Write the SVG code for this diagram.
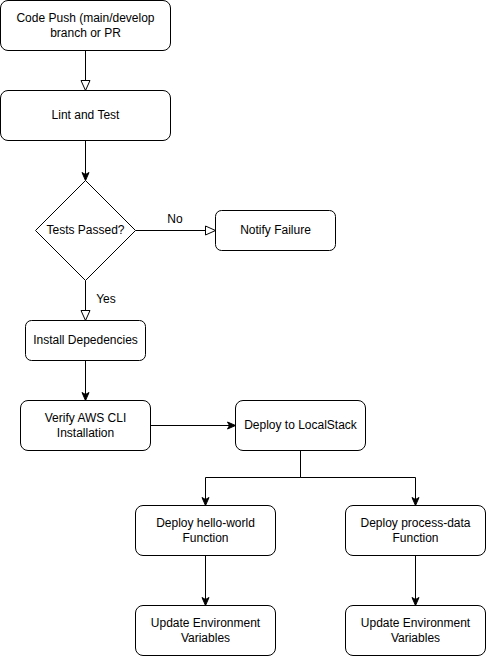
<svg xmlns="http://www.w3.org/2000/svg" width="486" height="656" viewBox="0 0 486 656">
<defs>
<style>
.n{fill:#fff;stroke:#000;stroke-width:1}
.t{font-family:"Liberation Sans",Arial,sans-serif;font-size:12px;fill:#000;text-anchor:middle}
.e{fill:none;stroke:#000;stroke-width:1}
</style>
<marker id="open" markerUnits="userSpaceOnUse" markerWidth="12" markerHeight="11" refX="10" refY="4.5" orient="auto" overflow="visible">
<path d="M0,0 L10,4.5 L0,9 Z" fill="#fff" stroke="#000" stroke-width="1"/>
</marker>
<marker id="cls" markerUnits="userSpaceOnUse" markerWidth="10" markerHeight="9" refX="8" refY="3.5" orient="auto" overflow="visible">
<path d="M0,0 L8,3.5 L0,7 L2,3.5 Z" fill="#000" stroke="#000" stroke-width="1"/>
</marker>
</defs>
<rect width="486" height="656" fill="#fff"/>
<g id="connectors">
<path class="e" d="M85.5,50.5 V90.5" marker-end="url(#open)"/>
<path class="e" d="M85.5,140.5 V180.5" marker-end="url(#cls)"/>
<path class="e" d="M135.5,230.5 H215.5" marker-end="url(#open)"/>
<text class="t" x="175" y="223">No</text>
<path class="e" d="M85.5,280.5 V320.5" marker-end="url(#open)"/>
<text class="t" x="106" y="303">Yes</text>
<path class="e" d="M85.5,360.5 V400.5" marker-end="url(#cls)"/>
<path class="e" d="M150.5,425.5 H235.5" marker-end="url(#cls)"/>
<path class="e" d="M300.5,450.5 V477.5 H205.5 V505.5" marker-end="url(#cls)"/>
<path class="e" d="M300.5,450.5 V477.5 H415.5 V505.5" marker-end="url(#cls)"/>
<path class="e" d="M205.5,555.5 V605.5" marker-end="url(#cls)"/>
<path class="e" d="M415.5,555.5 V605.5" marker-end="url(#cls)"/>
</g>
<g id="codepush">
<rect class="n" x="0.5" y="0.5" width="170" height="50" rx="7.5"/>
<text class="t" x="85.5" y="21.5">Code Push (main/develop</text>
<text class="t" x="85.5" y="36.5">branch or PR</text>
</g>
<g id="lint">
<rect class="n" x="0.5" y="90.5" width="170" height="50" rx="7.5"/>
<text class="t" x="85.5" y="118.5">Lint and Test</text>
</g>
<g id="tests">
<path class="n" d="M85.5,180.5 L135.5,230.5 L85.5,280.5 L35.5,230.5 Z"/>
<text class="t" x="85.5" y="233.5">Tests Passed?</text>
</g>
<g id="notify">
<rect class="n" x="215.5" y="210.5" width="120" height="40" rx="6"/>
<text class="t" x="275.5" y="233.5">Notify Failure</text>
</g>
<g id="install">
<rect class="n" x="25.5" y="320.5" width="120" height="40" rx="6"/>
<text class="t" x="85.5" y="343.5">Install Depedencies</text>
</g>
<g id="verify">
<rect class="n" x="20.5" y="400.5" width="130" height="50" rx="7.5"/>
<text class="t" x="85.5" y="421.5">Verify AWS CLI</text>
<text class="t" x="85.5" y="436.5">Installation</text>
</g>
<g id="deploy">
<rect class="n" x="235.5" y="400.5" width="130" height="50" rx="7.5"/>
<text class="t" x="300.5" y="428.5">Deploy to LocalStack</text>
</g>
<g id="hello">
<rect class="n" x="135.5" y="505.5" width="140" height="50" rx="7.5"/>
<text class="t" x="205.5" y="526.5">Deploy hello-world</text>
<text class="t" x="205.5" y="541.5">Function</text>
</g>
<g id="process">
<rect class="n" x="345.5" y="505.5" width="140" height="50" rx="7.5"/>
<text class="t" x="415.5" y="526.5">Deploy process-data</text>
<text class="t" x="415.5" y="541.5">Function</text>
</g>
<g id="env1">
<rect class="n" x="135.5" y="605.5" width="140" height="50" rx="7.5"/>
<text class="t" x="205.5" y="626.5">Update Environment</text>
<text class="t" x="205.5" y="641.5">Variables</text>
</g>
<g id="env2">
<rect class="n" x="345.5" y="605.5" width="140" height="50" rx="7.5"/>
<text class="t" x="415.5" y="626.5">Update Environment</text>
<text class="t" x="415.5" y="641.5">Variables</text>
</g>
</svg>
